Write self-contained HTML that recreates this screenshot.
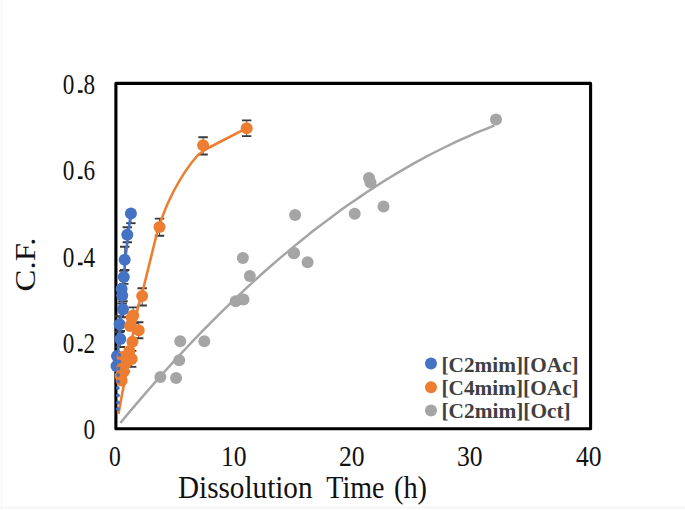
<!DOCTYPE html>
<html><head><meta charset="utf-8"><style>
html,body{margin:0;padding:0;background:#fff;}
svg{display:block;}
text{font-family:"Liberation Serif",serif;}
</style></head><body>
<svg width="685" height="510" viewBox="0 0 685 510">
<rect width="685" height="510" fill="#fff"/>
<rect x="0.8" y="0" width="1.4" height="510" fill="#f7f7f7"/>
<rect x="0" y="506" width="685" height="3" fill="#f8f8f8"/>
<g>
<rect x="115.9" y="83.4" width="474.7" height="345.4" fill="none" stroke="#000" stroke-width="3.1" stroke-linejoin="round"/>
<g fill="none" stroke="#A5A5A5" stroke-width="2.5"><path d="M120.3 423.0 L126.3 415.7 L132.3 408.6 L138.3 401.6 L144.3 394.6 L150.3 387.7 L156.3 380.9 L162.3 374.1 L168.3 367.5 L174.3 360.9 L180.3 354.4 L186.3 348.0 L192.3 341.6 L198.3 335.4 L204.3 329.2 L210.3 323.1 L216.3 317.1 L222.3 311.1 L228.3 305.3 L234.3 299.5 L240.3 293.8 L246.3 288.2 L252.3 282.6 L258.3 277.2 L264.3 271.8 L270.3 266.5 L276.3 261.3 L282.3 256.1 L288.3 251.1 L294.3 246.1 L300.3 241.2 L306.3 236.4 L312.3 231.6 L318.3 227.0 L324.3 222.4 L330.3 217.9 L336.3 213.5 L342.3 209.1 L348.3 204.8 L354.3 200.7 L360.3 196.6 L366.3 192.5 L372.3 188.6 L378.3 184.7 L384.3 180.9 L390.3 177.2 L396.3 173.6 L402.3 170.1 L408.3 166.6 L414.3 163.2 L420.3 159.9 L426.3 156.7 L432.3 153.5 L438.3 150.5 L444.3 147.5 L450.3 144.6 L456.3 141.7 L462.3 139.0 L468.3 136.3 L474.3 133.7 L480.3 131.2 L486.3 128.8 L492.3 126.4 L494.5 125.6"/></g>
<g><circle cx="160.4" cy="377.1" r="6.0" fill="#A5A5A5"/>
<circle cx="176.1" cy="378.0" r="6.0" fill="#A5A5A5"/>
<circle cx="179.2" cy="360.2" r="6.0" fill="#A5A5A5"/>
<circle cx="180.2" cy="341.3" r="6.0" fill="#A5A5A5"/>
<circle cx="204.3" cy="341.3" r="6.0" fill="#A5A5A5"/>
<circle cx="235.7" cy="301.2" r="6.0" fill="#A5A5A5"/>
<circle cx="243.5" cy="299.6" r="6.0" fill="#A5A5A5"/>
<circle cx="249.8" cy="276.1" r="6.0" fill="#A5A5A5"/>
<circle cx="242.9" cy="257.9" r="6.0" fill="#A5A5A5"/>
<circle cx="293.7" cy="253.2" r="6.0" fill="#A5A5A5"/>
<circle cx="295.1" cy="214.9" r="6.0" fill="#A5A5A5"/>
<circle cx="294.1" cy="252.9" r="6.0" fill="#A5A5A5"/>
<circle cx="307.6" cy="262.3" r="6.0" fill="#A5A5A5"/>
<circle cx="354.7" cy="213.7" r="6.0" fill="#A5A5A5"/>
<circle cx="369" cy="177.9" r="6.0" fill="#A5A5A5"/>
<circle cx="370.5" cy="182.6" r="6.0" fill="#A5A5A5"/>
<circle cx="383.5" cy="206.5" r="6.0" fill="#A5A5A5"/>
<circle cx="496" cy="119.4" r="6.0" fill="#A5A5A5"/></g>
<g fill="none" stroke="#3a3a3a"><path d="M130.9 213.4V223.2" stroke-width="0.9"/>
<path d="M126.2 223.2h9.4" stroke-width="1.9"/>
<path d="M127.3 227.2V242.2" stroke-width="0.9"/>
<path d="M122.6 227.2h9.4M122.6 242.2h9.4" stroke-width="1.9"/>
<path d="M124.7 246.8V270.0" stroke-width="0.9"/>
<path d="M120.0 246.8h9.4M120.0 270.0h9.4" stroke-width="1.9"/>
<path d="M123.8 270.9V283.9" stroke-width="0.9"/>
<path d="M119.1 270.9h9.4M119.1 283.9h9.4" stroke-width="1.9"/>
<path d="M122.2 287.5V303.5" stroke-width="0.9"/>
<path d="M117.5 287.5h9.4M117.5 303.5h9.4" stroke-width="1.9"/>
<path d="M123 301.3V317.3" stroke-width="0.9"/>
<path d="M118.3 301.3h9.4M118.3 317.3h9.4" stroke-width="1.9"/>
<path d="M119.6 316.2V332.2" stroke-width="0.9"/>
<path d="M114.9 316.2h9.4M114.9 332.2h9.4" stroke-width="1.9"/>
<path d="M120.3 331.0V347.0" stroke-width="0.9"/>
<path d="M115.6 331.0h9.4M115.6 347.0h9.4" stroke-width="1.9"/><path d="M246.7 120.4V136.1" stroke-width="0.9"/>
<path d="M242.0 120.4h9.4M242.0 136.1h9.4" stroke-width="1.9"/>
<path d="M203.1 137.3V154.5" stroke-width="0.9"/>
<path d="M198.4 137.3h9.4M198.4 154.5h9.4" stroke-width="1.9"/>
<path d="M159.5 218.6V235.8" stroke-width="0.9"/>
<path d="M154.8 218.6h9.4M154.8 235.8h9.4" stroke-width="1.9"/>
<path d="M142.2 288.3V305.5" stroke-width="0.9"/>
<path d="M137.5 288.3h9.4M137.5 305.5h9.4" stroke-width="1.9"/>
<path d="M133.2 307.4V323.4" stroke-width="0.9"/>
<path d="M128.5 307.4h9.4M128.5 323.4h9.4" stroke-width="1.9"/>
<path d="M138.7 322.2V338.2" stroke-width="0.9"/>
<path d="M134.0 322.2h9.4M134.0 338.2h9.4" stroke-width="1.9"/>
<path d="M131.7 350.9V366.9" stroke-width="0.9"/>
<path d="M127.0 350.9h9.4M127.0 366.9h9.4" stroke-width="1.9"/>
<path d="M125.4 355.6V371.6" stroke-width="0.9"/>
<path d="M120.7 355.6h9.4M120.7 371.6h9.4" stroke-width="1.9"/>
<path d="M121.6 380.5V380.5" stroke-width="0.9"/></g>
<g fill="none" stroke="#ED7D31" stroke-width="2.6" stroke-linejoin="round"><path d="M118.4 414 L 124 384 L 130 350 L 137.9 307.7 L 142.2 293 L 157 233 C 165 205, 180 175, 198 155 Q 205 149, 214 145 L 246.7 128.2"/></g>
<g fill="none" stroke="#4472C4" stroke-width="2.6"><path d="M116.8 372 C 118 350, 120 330, 122 300 S 127 240, 130.9 213.4"/></g>
<g><circle cx="130.9" cy="213.4" r="6.0" fill="#4472C4"/>
<circle cx="127.3" cy="234.8" r="6.0" fill="#4472C4"/>
<circle cx="124.7" cy="259.8" r="6.0" fill="#4472C4"/>
<circle cx="123.8" cy="276.9" r="6.0" fill="#4472C4"/>
<circle cx="121.6" cy="289" r="6.0" fill="#4472C4"/>
<circle cx="122.2" cy="295.5" r="6.0" fill="#4472C4"/>
<circle cx="123" cy="309.3" r="6.0" fill="#4472C4"/>
<circle cx="119.6" cy="324.2" r="6.0" fill="#4472C4"/>
<circle cx="120.3" cy="339" r="6.0" fill="#4472C4"/>
<circle cx="117" cy="356" r="6.0" fill="#4472C4"/>
<circle cx="116.5" cy="366" r="6.0" fill="#4472C4"/></g>
<g><circle cx="246.7" cy="128.2" r="6.0" fill="#ED7D31"/>
<circle cx="203.1" cy="145.2" r="6.0" fill="#ED7D31"/>
<circle cx="159.5" cy="227.0" r="6.0" fill="#ED7D31"/>
<circle cx="142.2" cy="296.0" r="6.0" fill="#ED7D31"/>
<circle cx="133.2" cy="315.4" r="6.0" fill="#ED7D31"/>
<circle cx="131.7" cy="317.4" r="6.0" fill="#ED7D31"/>
<circle cx="130.1" cy="326" r="6.0" fill="#ED7D31"/>
<circle cx="138.7" cy="330.2" r="6.0" fill="#ED7D31"/>
<circle cx="132.5" cy="341.7" r="6.0" fill="#ED7D31"/>
<circle cx="129.3" cy="351" r="6.0" fill="#ED7D31"/>
<circle cx="131.7" cy="358.9" r="6.0" fill="#ED7D31"/>
<circle cx="122.5" cy="357" r="6.0" fill="#ED7D31"/>
<circle cx="125.4" cy="363.6" r="6.0" fill="#ED7D31"/>
<circle cx="122.2" cy="368" r="6.0" fill="#ED7D31"/>
<circle cx="123.8" cy="371.5" r="6.0" fill="#ED7D31"/>
<circle cx="120.6" cy="376" r="6.0" fill="#ED7D31"/>
<circle cx="121.6" cy="380.5" r="6.0" fill="#ED7D31"/></g>
<g><circle cx="119.2" cy="354.9" r="1.9" fill="#4472C4"/>
<circle cx="119.2" cy="361.5" r="1.9" fill="#4472C4"/>
<circle cx="118.4" cy="368.5" r="1.9" fill="#4472C4"/>
<circle cx="118.2" cy="375" r="1.9" fill="#4472C4"/>
<circle cx="118.2" cy="381.6" r="1.9" fill="#4472C4"/>
<circle cx="117.8" cy="388" r="1.9" fill="#4472C4"/>
<circle cx="118" cy="395.5" r="1.9" fill="#4472C4"/>
<circle cx="118" cy="402.5" r="1.9" fill="#4472C4"/>
<circle cx="117.8" cy="409" r="1.9" fill="#4472C4"/></g>
</g>
<g>
<g font-size="28.6" fill="#111">
<text x="62.8" y="94.1" textLength="11.6" lengthAdjust="spacingAndGlyphs">0</text><rect x="78" y="90.2" width="4.6" height="2.6"/><text x="83.4" y="94.1" textLength="11.6" lengthAdjust="spacingAndGlyphs">8</text>
<text x="62.8" y="180.3" textLength="11.6" lengthAdjust="spacingAndGlyphs">0</text><rect x="78" y="176.4" width="4.6" height="2.6"/><text x="83.4" y="180.3" textLength="11.6" lengthAdjust="spacingAndGlyphs">6</text>
<text x="62.8" y="266.5" textLength="11.6" lengthAdjust="spacingAndGlyphs">0</text><rect x="78" y="262.6" width="4.6" height="2.6"/><text x="83.4" y="266.5" textLength="11.6" lengthAdjust="spacingAndGlyphs">4</text>
<text x="62.8" y="352.7" textLength="11.6" lengthAdjust="spacingAndGlyphs">0</text><rect x="78" y="348.8" width="4.6" height="2.6"/><text x="83.4" y="352.7" textLength="11.6" lengthAdjust="spacingAndGlyphs">2</text>
<text x="83.4" y="438.6" textLength="11.6" lengthAdjust="spacingAndGlyphs">0</text>
<text x="109" y="465.8" textLength="11.8" lengthAdjust="spacingAndGlyphs">0</text>
<text x="221" y="465.8" textLength="25.6" lengthAdjust="spacingAndGlyphs">10</text>
<text x="339" y="465.8" textLength="25.6" lengthAdjust="spacingAndGlyphs">20</text>
<text x="457" y="465.8" textLength="25.6" lengthAdjust="spacingAndGlyphs">30</text>
<text x="576" y="465.8" textLength="25.6" lengthAdjust="spacingAndGlyphs">40</text>
</g>
<g font-size="32" fill="#111">
<text x="178" y="497.8" textLength="134.5" lengthAdjust="spacingAndGlyphs">Dissolution</text>
<text x="326.3" y="497.8" textLength="58.2" lengthAdjust="spacingAndGlyphs">Time</text>
<text x="394" y="497.8" textLength="33" lengthAdjust="spacingAndGlyphs">(h)</text>
</g>
<text transform="translate(35.2 291.5) rotate(-90)" font-size="29.5" fill="#111" textLength="54" lengthAdjust="spacingAndGlyphs">C.F.</text>
<circle cx="431" cy="363.4" r="6" fill="#4472C4"/>
<circle cx="431" cy="387.3" r="6" fill="#ED7D31"/>
<circle cx="431" cy="410.4" r="6" fill="#A5A5A5"/>
<g font-size="22" font-weight="bold" fill="#404040">
<text x="441.5" y="372" textLength="137.2" lengthAdjust="spacingAndGlyphs">[C2mim][OAc]</text>
<text x="441.5" y="395.1" textLength="137.2" lengthAdjust="spacingAndGlyphs">[C4mim][OAc]</text>
<text x="441.5" y="418.2" textLength="129.2" lengthAdjust="spacingAndGlyphs">[C2mim][Oct]</text>
</g>
</g>
</svg>
</body></html>
